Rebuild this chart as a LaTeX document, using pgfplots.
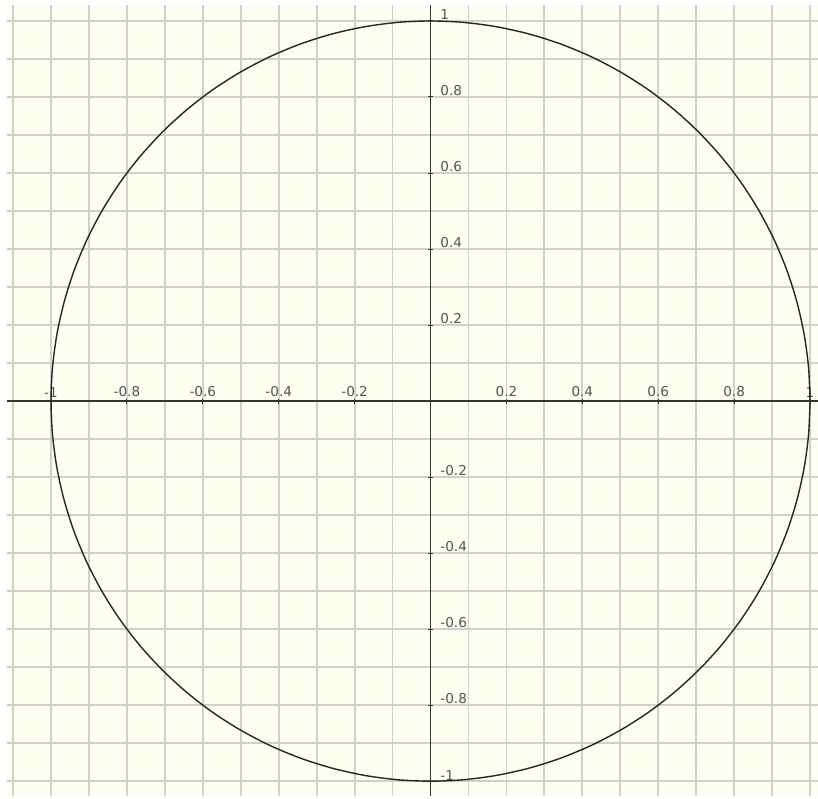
\documentclass[border=0pt]{standalone}
\usepackage{fontspec}
\setmainfont{DejaVu Sans}
\usepackage{pgfplots}
\pgfplotsset{compat=1.18}
\definecolor{cream}{HTML}{FDFDF0}
\definecolor{gridc}{HTML}{CFCFCF}
\definecolor{axc}{HTML}{333333}
\definecolor{labc}{HTML}{555555}
\begin{document}
\begin{tikzpicture}
\begin{axis}[
  scale only axis,
  width=405.5pt, height=395.5pt,
  xmin=-1.116, xmax=1.021,
  ymin=-1.039, ymax=1.042,
  axis lines=middle,
  axis line style={-, draw=axc, line width=0.7pt},
  axis background/.style={fill=cream},
  xtick={-1,-0.8,-0.6,-0.4,-0.2,0.2,0.4,0.6,0.8,1},
  xticklabels={-1,-0.8,-0.6,-0.4,-0.2,0.2,0.4,0.6,0.8,1},
  ytick={-1,-0.8,-0.6,-0.4,-0.2,0.2,0.4,0.6,0.8,1},
  yticklabels={-1,-0.8,-0.6,-0.4,-0.2,0.2,0.4,0.6,0.8,1},
  minor xtick={-1.1,-1,-0.9,-0.8,-0.7,-0.6,-0.5,-0.4,-0.3,-0.2,-0.1,0.1,0.2,0.3,0.4,0.5,0.6,0.7,0.8,0.9,1},
  minor ytick={-1,-0.9,-0.8,-0.7,-0.6,-0.5,-0.4,-0.3,-0.2,-0.1,0.1,0.2,0.3,0.4,0.5,0.6,0.7,0.8,0.9,1},
  grid=minor,
  minor grid style={draw=gridc, line width=0.9pt},
  minor tick length=0pt,
  major tick length=2.5pt,
  tick align=center,
  tick style={draw=axc, line width=0.5pt},
  xticklabel style={anchor=south, inner sep=0pt, yshift=3pt, font=\fontsize{6.8}{8}\selectfont, text=labc},
  yticklabel style={anchor=south west, inner sep=0pt, xshift=6pt, yshift=0.3pt, font=\fontsize{6.8}{8}\selectfont, text=labc},
  clip=false,
]
\addplot[smooth, draw=black!85, line width=0.7pt] coordinates {
(1,0) (0.9962,0.0872) (0.9848,0.1736) (0.9659,0.2588) (0.9397,0.3420) (0.9063,0.4226)
(0.8660,0.5) (0.8192,0.5736) (0.7660,0.6428) (0.7071,0.7071) (0.6428,0.7660) (0.5736,0.8192)
(0.5,0.8660) (0.4226,0.9063) (0.3420,0.9397) (0.2588,0.9659) (0.1736,0.9848) (0.0872,0.9962) (0,1)
(-0.0872,0.9962) (-0.1736,0.9848) (-0.2588,0.9659) (-0.3420,0.9397) (-0.4226,0.9063) (-0.5,0.8660)
(-0.5736,0.8192) (-0.6428,0.7660) (-0.7071,0.7071) (-0.7660,0.6428) (-0.8192,0.5736) (-0.8660,0.5)
(-0.9063,0.4226) (-0.9397,0.3420) (-0.9659,0.2588) (-0.9848,0.1736) (-0.9962,0.0872) (-1,0)
(-0.9962,-0.0872) (-0.9848,-0.1736) (-0.9659,-0.2588) (-0.9397,-0.3420) (-0.9063,-0.4226) (-0.8660,-0.5)
(-0.8192,-0.5736) (-0.7660,-0.6428) (-0.7071,-0.7071) (-0.6428,-0.7660) (-0.5736,-0.8192) (-0.5,-0.8660)
(-0.4226,-0.9063) (-0.3420,-0.9397) (-0.2588,-0.9659) (-0.1736,-0.9848) (-0.0872,-0.9962) (0,-1)
(0.0872,-0.9962) (0.1736,-0.9848) (0.2588,-0.9659) (0.3420,-0.9397) (0.4226,-0.9063) (0.5,-0.8660)
(0.5736,-0.8192) (0.6428,-0.7660) (0.7071,-0.7071) (0.7660,-0.6428) (0.8192,-0.5736) (0.8660,-0.5)
(0.9063,-0.4226) (0.9397,-0.3420) (0.9659,-0.2588) (0.9848,-0.1736) (0.9962,-0.0872) (1,0)
};
\coordinate (sw) at (rel axis cs:0,0);
\coordinate (ne) at (rel axis cs:1,1);
\end{axis}
\pgfresetboundingbox
\path ([xshift=-3.5pt,yshift=-1pt]sw) rectangle ([yshift=2.5pt]ne);
\end{tikzpicture}
\end{document}
